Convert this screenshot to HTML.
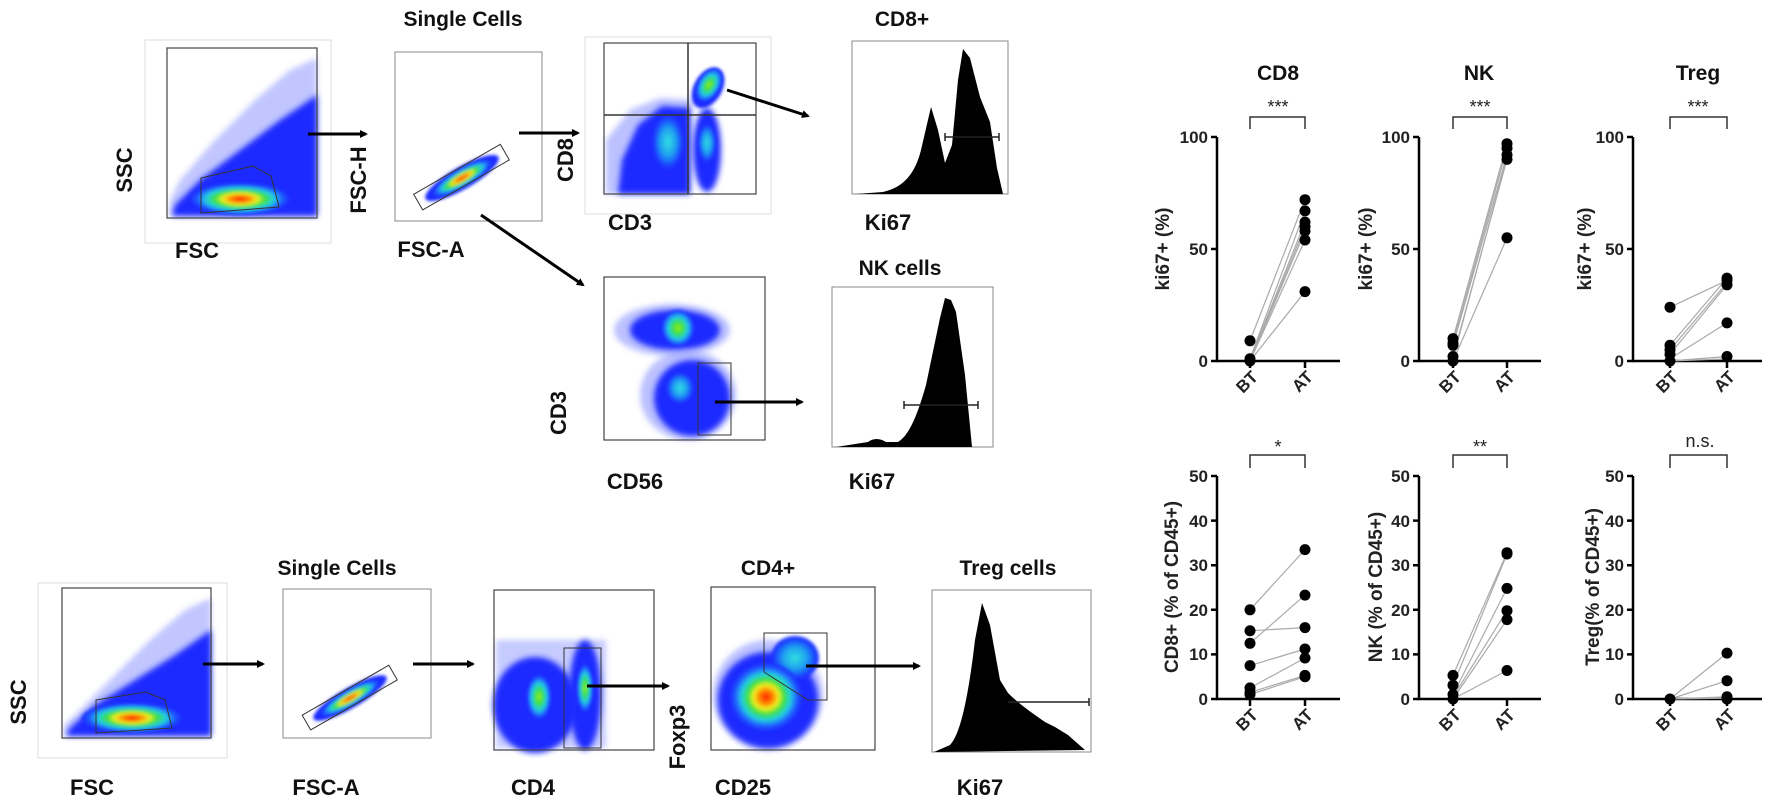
<!DOCTYPE html>
<html><head><meta charset="utf-8"><style>
html,body{margin:0;padding:0;background:#fff;}
svg{display:block;}
.lb{font-family:"Liberation Sans",sans-serif;font-weight:bold;font-size:22px;fill:#111;}
.tk{font-family:"Liberation Sans",sans-serif;font-weight:bold;font-size:17px;fill:#222;}
.yl{font-family:"Liberation Sans",sans-serif;font-weight:bold;font-size:19px;fill:#222;}
.ti{font-family:"Liberation Sans",sans-serif;font-weight:bold;font-size:21px;fill:#111;}
.st{font-family:"Liberation Sans",sans-serif;font-size:18px;fill:#222;}
</style></head><body>
<svg width="1772" height="804" viewBox="0 0 1772 804" xmlns="http://www.w3.org/2000/svg">
<defs>
<filter id="b1" x="-50%" y="-50%" width="200%" height="200%"><feGaussianBlur stdDeviation="1.5"/></filter>
<filter id="b3" x="-50%" y="-50%" width="200%" height="200%"><feGaussianBlur stdDeviation="3"/></filter>
<marker id="ah" markerWidth="8" markerHeight="8" refX="6" refY="4" orient="auto" markerUnits="userSpaceOnUse"><path d="M0,0 L8,4 L0,8 Z" fill="#000"/></marker>
<radialGradient id="jet"><stop offset="0" stop-color="#ff1a00"/><stop offset="0.2" stop-color="#ff8a00"/><stop offset="0.35" stop-color="#f0f020"/><stop offset="0.5" stop-color="#40e040"/><stop offset="0.68" stop-color="#20d0e0"/><stop offset="0.85" stop-color="#2060ff"/><stop offset="1" stop-color="#1a2cff"/></radialGradient>
<radialGradient id="jetg"><stop offset="0" stop-color="#a0f020"/><stop offset="0.3" stop-color="#40e040"/><stop offset="0.6" stop-color="#20d0e0"/><stop offset="0.85" stop-color="#2060ff"/><stop offset="1" stop-color="#1a2cff"/></radialGradient>
<radialGradient id="jetc"><stop offset="0" stop-color="#30e0e0"/><stop offset="0.5" stop-color="#20a0f0"/><stop offset="0.85" stop-color="#1a40ff"/><stop offset="1" stop-color="#1a2cff"/></radialGradient>
</defs>

<!-- ===== TOP ROW FLOW ===== -->
<rect x="145" y="40" width="186" height="203" fill="none" stroke="#ddd"/>
<g>
<polygon points="170,216 317,216 317,58 290,70 255,100 215,140 180,180 170,200" fill="#8f98ff" opacity="0.55" filter="url(#b3)"/>
<polygon points="172,216 317,216 317,95 280,120 240,150 200,180 175,205" fill="#1a2cff" filter="url(#b3)"/>
<ellipse cx="240" cy="199" rx="50" ry="16" fill="url(#jet)" filter="url(#b1)"/>
<polygon points="201,178 253,166 271,176 279,207 201,213" fill="none" stroke="#333" stroke-width="1"/>
</g>
<rect x="167" y="48" width="150" height="170" fill="none" stroke="#444" stroke-width="1.2"/>
<text class="lb" x="126" y="170" text-anchor="middle" dominant-baseline="middle" transform="rotate(-90 126 170)">SSC</text>
<text class="lb" x="197" y="258" text-anchor="middle">FSC</text>
<line x1="308" y1="134" x2="366" y2="134" stroke="#000" stroke-width="3" marker-end="url(#ah)"/>

<text class="ti" x="463" y="26" text-anchor="middle">Single Cells</text>
<rect x="395" y="52" width="147" height="169" fill="none" stroke="#888" stroke-width="1"/>
<g transform="rotate(-30 462 178)">
<ellipse cx="462" cy="178" rx="42" ry="11" fill="#1a2cff" filter="url(#b1)"/>
<ellipse cx="462" cy="178" rx="34" ry="9" fill="url(#jet)" filter="url(#b1)"/>
<rect x="412" y="168" width="100" height="18" fill="none" stroke="#333"/>
</g>
<text class="lb" x="360" y="180" text-anchor="middle" dominant-baseline="middle" transform="rotate(-90 360 180)">FSC-H</text>
<text class="lb" x="431" y="257" text-anchor="middle">FSC-A</text>
<line x1="519" y1="133" x2="578" y2="133" stroke="#000" stroke-width="3" marker-end="url(#ah)"/>
<line x1="481" y1="215" x2="583" y2="285" stroke="#000" stroke-width="3" marker-end="url(#ah)"/>

<rect x="585" y="37" width="186" height="177" fill="none" stroke="#ddd"/>
<g>
<polygon points="606,194 690,194 692,100 660,98 630,110 606,140" fill="#8f98ff" opacity="0.6" filter="url(#b3)"/>
<polygon points="618,194 690,194 690,108 662,106 638,125 622,160" fill="#1a2cff" filter="url(#b3)"/>
<ellipse cx="668" cy="142" rx="16" ry="28" fill="url(#jetc)" filter="url(#b1)"/>
<ellipse cx="707" cy="150" rx="14" ry="42" fill="#1a2cff" filter="url(#b3)"/>
<ellipse cx="707" cy="143" rx="9" ry="20" fill="url(#jetc)" filter="url(#b1)"/>
<ellipse cx="708" cy="88" rx="14" ry="22" transform="rotate(30 708 88)" fill="#1a2cff" filter="url(#b1)"/>
<ellipse cx="709" cy="85" rx="11" ry="18" transform="rotate(30 709 85)" fill="url(#jetg)" filter="url(#b1)"/>
</g>
<rect x="604" y="43" width="152" height="151" fill="none" stroke="#444" stroke-width="1.2"/>
<line x1="688" y1="43" x2="688" y2="194" stroke="#333" stroke-width="1.5"/>
<line x1="604" y1="115" x2="756" y2="115" stroke="#333" stroke-width="1.5"/>
<text class="lb" x="567" y="160" text-anchor="middle" dominant-baseline="middle" transform="rotate(-90 567 160)">CD8</text>
<text class="lb" x="630" y="230" text-anchor="middle">CD3</text>
<line x1="727" y1="90" x2="808" y2="116" stroke="#000" stroke-width="3" marker-end="url(#ah)"/>

<text class="ti" x="902" y="26" text-anchor="middle">CD8+</text>
<rect x="852" y="41" width="156" height="153" fill="none" stroke="#888"/>
<path d="M856,194 L883,192 C900,188 914,178 921,150 L931,107 L938,130 L945,163 L952,145 L958,80 L963,49 L970,58 L980,97 L990,122 L997,168 L1003,194 Z" fill="#000"/>
<line x1="945" y1="137" x2="999" y2="137" stroke="#222" stroke-width="1.5"/>
<line x1="945" y1="133" x2="945" y2="141" stroke="#222" stroke-width="1.5"/>
<line x1="999" y1="133" x2="999" y2="141" stroke="#222" stroke-width="1.5"/>
<text class="lb" x="888" y="230" text-anchor="middle">Ki67</text>

<g>
<ellipse cx="672" cy="330" rx="58" ry="26" fill="#8f98ff" opacity="0.6" filter="url(#b3)"/>
<ellipse cx="675" cy="330" rx="45" ry="20" fill="#1a2cff" filter="url(#b3)"/>
<ellipse cx="678" cy="328" rx="16" ry="18" fill="url(#jetg)" filter="url(#b1)"/>
<ellipse cx="688" cy="395" rx="48" ry="45" fill="#8f98ff" opacity="0.6" filter="url(#b3)"/>
<ellipse cx="692" cy="398" rx="38" ry="38" fill="#1a2cff" filter="url(#b3)"/>
<ellipse cx="680" cy="388" rx="14" ry="16" fill="url(#jetc)" filter="url(#b1)"/>
</g>
<rect x="604" y="277" width="161" height="163" fill="none" stroke="#444" stroke-width="1.2"/>
<rect x="698" y="363" width="33" height="72" fill="none" stroke="#333"/>
<text class="lb" x="560" y="413" text-anchor="middle" dominant-baseline="middle" transform="rotate(-90 560 413)">CD3</text>
<text class="lb" x="635" y="489" text-anchor="middle">CD56</text>
<line x1="715" y1="402" x2="802" y2="402" stroke="#000" stroke-width="3" marker-end="url(#ah)"/>

<text class="ti" x="900" y="275" text-anchor="middle">NK cells</text>
<rect x="832" y="287" width="161" height="160" fill="none" stroke="#888"/>
<path d="M836,447 L868,442 C873,438 880,438 886,442 L898,442 C908,436 916,420 926,385 L940,318 L945,298 L951,300 L956,312 L965,375 L972,447 Z" fill="#000"/>
<line x1="904" y1="405" x2="978" y2="405" stroke="#222" stroke-width="1.5"/>
<line x1="904" y1="401" x2="904" y2="409" stroke="#222" stroke-width="1.5"/>
<line x1="978" y1="401" x2="978" y2="409" stroke="#222" stroke-width="1.5"/>
<text class="lb" x="872" y="489" text-anchor="middle">Ki67</text>

<!-- ===== BOTTOM ROW FLOW ===== -->
<rect x="38" y="583" width="189" height="175" fill="none" stroke="#ddd"/>
<g>
<polygon points="64,736 211,736 211,598 185,610 150,640 110,680 75,715 64,725" fill="#8f98ff" opacity="0.55" filter="url(#b3)"/>
<polygon points="66,736 211,736 211,630 175,655 135,680 95,705 70,728" fill="#1a2cff" filter="url(#b3)"/>
<ellipse cx="132" cy="718" rx="50" ry="15" fill="url(#jet)" filter="url(#b1)"/>
<polygon points="96,700 146,692 165,700 172,728 96,733" fill="none" stroke="#333"/>
</g>
<rect x="62" y="588" width="149" height="150" fill="none" stroke="#444" stroke-width="1.2"/>
<text class="lb" x="20" y="702" text-anchor="middle" dominant-baseline="middle" transform="rotate(-90 20 702)">SSC</text>
<text class="lb" x="92" y="795" text-anchor="middle">FSC</text>
<line x1="203" y1="664" x2="263" y2="664" stroke="#000" stroke-width="3" marker-end="url(#ah)"/>

<text class="ti" x="337" y="575" text-anchor="middle">Single Cells</text>
<rect x="283" y="589" width="148" height="149" fill="none" stroke="#888"/>
<g transform="rotate(-30 350 698)">
<ellipse cx="350" cy="698" rx="42" ry="10" fill="#1a2cff" filter="url(#b1)"/>
<ellipse cx="350" cy="698" rx="34" ry="8" fill="url(#jet)" filter="url(#b1)"/>
<rect x="300" y="689" width="100" height="17" fill="none" stroke="#333"/>
</g>
<text class="lb" x="326" y="795" text-anchor="middle">FSC-A</text>
<line x1="413" y1="664" x2="473" y2="664" stroke="#000" stroke-width="3" marker-end="url(#ah)"/>

<g>
<rect x="496" y="640" width="110" height="108" fill="#8f98ff" opacity="0.5" filter="url(#b3)"/>
<ellipse cx="535" cy="705" rx="42" ry="48" fill="#1a2cff" filter="url(#b3)"/>
<ellipse cx="539" cy="697" rx="12" ry="22" fill="url(#jetg)" filter="url(#b1)"/>
<ellipse cx="585" cy="695" rx="16" ry="55" fill="#1a2cff" filter="url(#b3)"/>
<ellipse cx="585" cy="688" rx="8" ry="24" fill="url(#jetg)" filter="url(#b1)"/>
</g>
<rect x="494" y="590" width="160" height="160" fill="none" stroke="#444" stroke-width="1.2"/>
<rect x="564" y="648" width="37" height="100" fill="none" stroke="#333"/>
<text class="lb" x="533" y="795" text-anchor="middle">CD4</text>
<line x1="587" y1="686" x2="668" y2="686" stroke="#000" stroke-width="3" marker-end="url(#ah)"/>

<text class="ti" x="768" y="575" text-anchor="middle">CD4+</text>
<g>
<ellipse cx="768" cy="695" rx="55" ry="55" fill="#8f98ff" opacity="0.6" filter="url(#b3)"/>
<ellipse cx="768" cy="700" rx="50" ry="48" fill="#1a2cff" filter="url(#b3)"/>
<ellipse cx="795" cy="658" rx="24" ry="22" fill="url(#jetc)" filter="url(#b1)"/>
<ellipse cx="766" cy="697" rx="36" ry="34" fill="url(#jet)" filter="url(#b1)"/>
</g>
<rect x="711" y="587" width="164" height="163" fill="none" stroke="#444" stroke-width="1.2"/>
<polyline points="764,672 764,633 827,633 827,700 808,700 764,672" fill="none" stroke="#333"/>
<text class="lb" x="679" y="737" text-anchor="middle" dominant-baseline="middle" transform="rotate(-90 679 737)">Foxp3</text>
<text class="lb" x="743" y="795" text-anchor="middle">CD25</text>
<line x1="806" y1="666" x2="919" y2="666" stroke="#000" stroke-width="3" marker-end="url(#ah)"/>

<text class="ti" x="1008" y="575" text-anchor="middle">Treg cells</text>
<rect x="932" y="590" width="159" height="162" fill="none" stroke="#888"/>
<path d="M934,752 L950,745 C960,735 968,700 975,640 L982,603 L990,625 L1000,680 L1008,693 C1020,705 1035,715 1045,722 L1055,727 L1068,735 L1085,750 Z" fill="#000"/>
<line x1="1008" y1="702" x2="1089" y2="702" stroke="#222" stroke-width="1.5"/>
<line x1="1089" y1="698" x2="1089" y2="706" stroke="#222" stroke-width="1.5"/>
<text class="lb" x="980" y="795" text-anchor="middle">Ki67</text>

<!-- ===== RIGHT PANELS ===== -->
<g stroke="#000" stroke-width="2.5" fill="none">
<path d="M1217,137 L1217,361 L1340,361"/>
<path d="M1419,137 L1419,361 L1541,361"/>
<path d="M1633,137 L1633,361 L1762,361"/>
<path d="M1211,137 H1217 M1211,249 H1217 M1211,361 H1217 M1250,361 V368 M1305,361 V368"/>
<path d="M1413,137 H1419 M1413,249 H1419 M1413,361 H1419 M1453,361 V368 M1507,361 V368"/>
<path d="M1627,137 H1633 M1627,249 H1633 M1627,361 H1633 M1670,361 V368 M1727,361 V368"/>
<path d="M1217,476 L1217,699 L1340,699"/>
<path d="M1419,476 L1419,699 L1541,699"/>
<path d="M1633,476 L1633,699 L1762,699"/>
<path d="M1211,476 H1217 M1211,520.6 H1217 M1211,565.2 H1217 M1211,609.8 H1217 M1211,654.4 H1217 M1211,699 H1217 M1250,699 V706 M1305,699 V706"/>
<path d="M1413,476 H1419 M1413,520.6 H1419 M1413,565.2 H1419 M1413,609.8 H1419 M1413,654.4 H1419 M1413,699 H1419 M1453,699 V706 M1507,699 V706"/>
<path d="M1627,476 H1633 M1627,520.6 H1633 M1627,565.2 H1633 M1627,609.8 H1633 M1627,654.4 H1633 M1627,699 H1633 M1670,699 V706 M1727,699 V706"/>
</g>
<g stroke="#333" stroke-width="1.5" fill="none">
<path d="M1250,129 V117 H1305 V129"/>
<path d="M1453,129 V117 H1507 V129"/>
<path d="M1670,129 V117 H1727 V129"/>
<path d="M1250,468 V455 H1305 V468"/>
<path d="M1453,468 V455 H1507 V468"/>
<path d="M1670,468 V455 H1727 V468"/>
</g>
<text class="st" x="1278" y="113" text-anchor="middle">***</text>
<text class="st" x="1480" y="113" text-anchor="middle">***</text>
<text class="st" x="1698" y="113" text-anchor="middle">***</text>
<text class="st" x="1278" y="453" text-anchor="middle">*</text>
<text class="st" x="1480" y="453" text-anchor="middle">**</text>
<text class="st" x="1700" y="447" text-anchor="middle">n.s.</text>
<text class="ti" x="1278" y="80" text-anchor="middle">CD8</text>
<text class="ti" x="1479" y="80" text-anchor="middle">NK</text>
<text class="ti" x="1698" y="80" text-anchor="middle">Treg</text>
<g class="tk" text-anchor="end">
<text x="1208" y="143">100</text><text x="1208" y="255">50</text><text x="1208" y="367">0</text>
<text x="1410" y="143">100</text><text x="1410" y="255">50</text><text x="1410" y="367">0</text>
<text x="1624" y="143">100</text><text x="1624" y="255">50</text><text x="1624" y="367">0</text>
<text x="1208" y="482">50</text><text x="1208" y="527">40</text><text x="1208" y="571">30</text><text x="1208" y="616">20</text><text x="1208" y="660">10</text><text x="1208" y="705">0</text>
<text x="1410" y="482">50</text><text x="1410" y="527">40</text><text x="1410" y="571">30</text><text x="1410" y="616">20</text><text x="1410" y="660">10</text><text x="1410" y="705">0</text>
<text x="1624" y="482">50</text><text x="1624" y="527">40</text><text x="1624" y="571">30</text><text x="1624" y="616">20</text><text x="1624" y="660">10</text><text x="1624" y="705">0</text>
</g>
<g class="tk" text-anchor="end">
<text transform="translate(1259,378) rotate(-45)">BT</text><text transform="translate(1314,378) rotate(-45)">AT</text>
<text transform="translate(1462,378) rotate(-45)">BT</text><text transform="translate(1516,378) rotate(-45)">AT</text>
<text transform="translate(1679,378) rotate(-45)">BT</text><text transform="translate(1736,378) rotate(-45)">AT</text>
<text transform="translate(1259,716) rotate(-45)">BT</text><text transform="translate(1314,716) rotate(-45)">AT</text>
<text transform="translate(1462,716) rotate(-45)">BT</text><text transform="translate(1516,716) rotate(-45)">AT</text>
<text transform="translate(1679,716) rotate(-45)">BT</text><text transform="translate(1736,716) rotate(-45)">AT</text>
</g>
<g class="yl" text-anchor="middle">
<text transform="translate(1169,249) rotate(-90)">ki67+ (%)</text>
<text transform="translate(1372,249) rotate(-90)">ki67+ (%)</text>
<text transform="translate(1591,249) rotate(-90)">ki67+ (%)</text>
<text transform="translate(1178,587) rotate(-90)">CD8+ (% of CD45+)</text>
<text transform="translate(1382,587) rotate(-90)">NK (% of CD45+)</text>
<text transform="translate(1599,587) rotate(-90)">Treg(% of CD45+)</text>
</g>
<g stroke="#aaa" stroke-width="1.2">
<line x1="1250" y1="340.8" x2="1305" y2="199.7"/><line x1="1250" y1="358.8" x2="1305" y2="210.9"/><line x1="1250" y1="359.9" x2="1305" y2="222.1"/><line x1="1250" y1="361" x2="1305" y2="226.6"/><line x1="1250" y1="361" x2="1305" y2="231.1"/><line x1="1250" y1="361" x2="1305" y2="240"/><line x1="1250" y1="361" x2="1305" y2="291.6"/>
<line x1="1453" y1="338.6" x2="1507" y2="143.7"/><line x1="1453" y1="343.1" x2="1507" y2="148.2"/><line x1="1453" y1="345.3" x2="1507" y2="154.9"/><line x1="1453" y1="356.5" x2="1507" y2="159.4"/><line x1="1453" y1="358.8" x2="1507" y2="157.2"/><line x1="1453" y1="361" x2="1507" y2="237.8"/>
<line x1="1670" y1="307.2" x2="1727" y2="280.4"/><line x1="1670" y1="345.3" x2="1727" y2="278.1"/><line x1="1670" y1="349.8" x2="1727" y2="282.6"/><line x1="1670" y1="354.3" x2="1727" y2="284.8"/><line x1="1670" y1="358.8" x2="1727" y2="322.9"/><line x1="1670" y1="361" x2="1727" y2="356.5"/><line x1="1670" y1="361" x2="1727" y2="358.8"/>
<line x1="1250" y1="609.8" x2="1305" y2="549.6"/><line x1="1250" y1="643.3" x2="1305" y2="595.1"/><line x1="1250" y1="630.8" x2="1305" y2="627.6"/><line x1="1250" y1="665.6" x2="1305" y2="649"/><line x1="1250" y1="687.9" x2="1305" y2="658"/><line x1="1250" y1="692.3" x2="1305" y2="675.4"/><line x1="1250" y1="694.5" x2="1305" y2="676.7"/>
<line x1="1453" y1="675.4" x2="1507" y2="552.7"/><line x1="1453" y1="685.2" x2="1507" y2="554"/><line x1="1453" y1="694.5" x2="1507" y2="588.4"/><line x1="1453" y1="696.8" x2="1507" y2="610.7"/><line x1="1453" y1="699" x2="1507" y2="619.6"/><line x1="1453" y1="699" x2="1507" y2="670.5"/>
<line x1="1670" y1="699" x2="1727" y2="653.1"/><line x1="1670" y1="699" x2="1727" y2="680.7"/><line x1="1670" y1="699" x2="1727" y2="696.8"/><line x1="1670" y1="699" x2="1727" y2="698.1"/>
</g>
<g fill="#000">
<circle cx="1250" cy="340.8" r="5.5"/><circle cx="1250" cy="358.8" r="5.5"/><circle cx="1250" cy="361" r="5.5"/>
<circle cx="1305" cy="199.7" r="5.5"/><circle cx="1305" cy="210.9" r="5.5"/><circle cx="1305" cy="222.1" r="5.5"/><circle cx="1305" cy="226.6" r="5.5"/><circle cx="1305" cy="231.1" r="5.5"/><circle cx="1305" cy="240" r="5.5"/><circle cx="1305" cy="291.6" r="5.5"/>
<circle cx="1453" cy="338.6" r="5.5"/><circle cx="1453" cy="343.1" r="5.5"/><circle cx="1453" cy="345.3" r="5.5"/><circle cx="1453" cy="356.5" r="5.5"/><circle cx="1453" cy="361" r="5.5"/>
<circle cx="1507" cy="143.7" r="5.5"/><circle cx="1507" cy="148.2" r="5.5"/><circle cx="1507" cy="154.9" r="5.5"/><circle cx="1507" cy="159.4" r="5.5"/><circle cx="1507" cy="237.8" r="5.5"/>
<circle cx="1670" cy="307.2" r="5.5"/><circle cx="1670" cy="345.3" r="5.5"/><circle cx="1670" cy="349.8" r="5.5"/><circle cx="1670" cy="354.3" r="5.5"/><circle cx="1670" cy="361" r="5.5"/>
<circle cx="1727" cy="280.4" r="5.5"/><circle cx="1727" cy="278.1" r="5.5"/><circle cx="1727" cy="284.8" r="5.5"/><circle cx="1727" cy="322.9" r="5.5"/><circle cx="1727" cy="356.5" r="5.5"/>
<circle cx="1250" cy="609.8" r="5.5"/><circle cx="1250" cy="643.3" r="5.5"/><circle cx="1250" cy="630.8" r="5.5"/><circle cx="1250" cy="665.6" r="5.5"/><circle cx="1250" cy="687.9" r="5.5"/><circle cx="1250" cy="692.3" r="5.5"/><circle cx="1250" cy="694.5" r="5.5"/>
<circle cx="1305" cy="549.6" r="5.5"/><circle cx="1305" cy="595.1" r="5.5"/><circle cx="1305" cy="627.6" r="5.5"/><circle cx="1305" cy="649" r="5.5"/><circle cx="1305" cy="658" r="5.5"/><circle cx="1305" cy="675.4" r="5.5"/><circle cx="1305" cy="676.7" r="5.5"/>
<circle cx="1453" cy="675.4" r="5.5"/><circle cx="1453" cy="685.2" r="5.5"/><circle cx="1453" cy="694.5" r="5.5"/><circle cx="1453" cy="699" r="5.5"/>
<circle cx="1507" cy="552.7" r="5.5"/><circle cx="1507" cy="554" r="5.5"/><circle cx="1507" cy="588.4" r="5.5"/><circle cx="1507" cy="610.7" r="5.5"/><circle cx="1507" cy="619.6" r="5.5"/><circle cx="1507" cy="670.5" r="5.5"/>
<circle cx="1670" cy="699" r="5.5"/>
<circle cx="1727" cy="653.1" r="5.5"/><circle cx="1727" cy="680.7" r="5.5"/><circle cx="1727" cy="696.8" r="5.5"/><circle cx="1727" cy="699" r="5.5"/>
</g>
</svg>
</body></html>
